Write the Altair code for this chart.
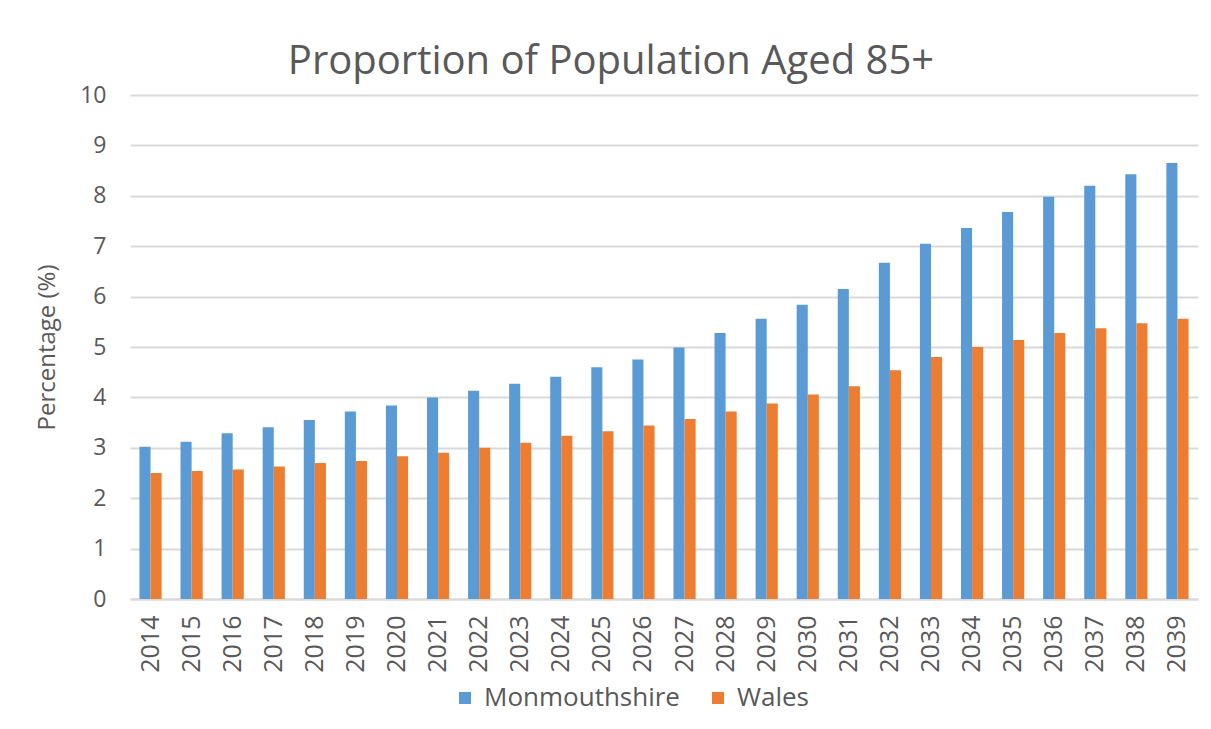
import altair as alt
import pandas as pd

years = [str(y) for y in range(2014, 2040)]
monmouthshire = [3.02, 3.12, 3.29, 3.41, 3.55, 3.72, 3.84, 4.0, 4.13, 4.27, 4.41, 4.6, 4.75,
                 4.99, 5.28, 5.56, 5.84, 6.15, 6.67, 7.05, 7.36, 7.68, 7.98, 8.2, 8.43, 8.65]
wales = [2.5, 2.54, 2.57, 2.63, 2.7, 2.74, 2.83, 2.9, 3.0, 3.1, 3.24, 3.33, 3.44,
         3.57, 3.72, 3.88, 4.06, 4.22, 4.54, 4.8, 5.0, 5.14, 5.28, 5.37, 5.47, 5.56]
series = ["Monmouthshire", "Wales"]
colors = ["#5b9bd5", "#ed7d31"]
y_ticks = list(range(0, 11))

rows = []
for i, y in enumerate(years):
    rows.append({"Year": y, "Series": series[0], "Value": monmouthshire[i]})
    rows.append({"Year": y, "Series": series[1], "Value": wales[i]})
df = pd.DataFrame(rows)

FONT = "Open Sans"
GREY = "#595959"

chart = alt.Chart(df).mark_bar().encode(
    x=alt.X("Year:N", sort=years,
            scale=alt.Scale(paddingInner=0.46, paddingOuter=0.23),
            axis=alt.Axis(title=None, labelAngle=-90, labelFontSize=25, labelColor=GREY,
                          labelFont=FONT, ticks=False, domain=True, domainColor="#d9d9d9",
                          domainWidth=2, labelPadding=16, labelBaseline="middle")),
    xOffset=alt.XOffset("Series:N", sort=series),
    y=alt.Y("Value:Q", scale=alt.Scale(domain=[0, 10], nice=False),
            axis=alt.Axis(title="Percentage (%)", values=y_ticks, labelOverlap=False,
                          labelFontSize=23, labelColor=GREY, labelFont=FONT, ticks=False,
                          domain=False, labelPadding=24, titleFontSize=24, titleColor=GREY,
                          titleFont=FONT, titleFontWeight="normal", titlePadding=20,
                          gridColor="#d9d9d9", gridWidth=2)),
    color=alt.Color("Series:N", sort=series,
                    scale=alt.Scale(domain=series, range=colors),
                    legend=alt.Legend(title=None, orient="none", direction="horizontal",
                                      legendX=322, legendY=590, labelFontSize=26,
                                      labelColor=GREY, labelFont=FONT, symbolType="square",
                                      symbolSize=144, symbolStrokeWidth=0, columnPadding=25,
                                      labelOffset=6, labelLimit=400)),
).properties(
    width=1068,
    height=504,
    title=alt.TitleParams("Proportion of Population Aged 85+", fontSize=40, font=FONT,
                          color=GREY, fontWeight="normal", dx=-53, offset=2),
    autosize=alt.AutoSizeParams(type="none"),
    padding={"left": 122, "top": 87, "right": 5, "bottom": 120},
).configure_view(stroke=None)

chart.save("out.html", embed_options={"renderer": "svg", "actions": False})
